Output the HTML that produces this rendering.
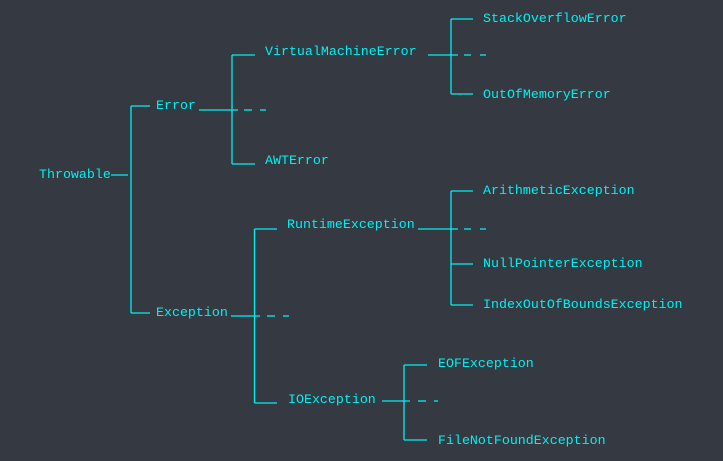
<!DOCTYPE html>
<html><head><style>
html,body{margin:0;padding:0;background:#353a42;}
svg{display:block}
text{font-family:"Liberation Mono",monospace;font-size:13.3px;fill:#00f0f0;}
line{stroke:#00f0f0;stroke-width:1.3;}
</style></head><body>
<svg width="723" height="461" viewBox="0 0 723 461">
<rect width="723" height="461" fill="#353a42"/>
<!-- Throwable -->
<text x="39" y="178">Throwable</text>
<line x1="111" y1="175" x2="128" y2="175"/>
<line x1="131" y1="106" x2="131" y2="313"/>
<line x1="131" y1="106" x2="150" y2="106"/>
<line x1="131" y1="313" x2="150" y2="313"/>
<text x="156" y="109">Error</text>
<text x="156" y="316">Exception</text>
<!-- Error -->
<line x1="199" y1="110" x2="238" y2="110"/>
<line x1="244" y1="110" x2="252" y2="110"/>
<line x1="260" y1="110" x2="266" y2="110"/>
<line x1="232" y1="55" x2="232" y2="164"/>
<line x1="232" y1="55" x2="255" y2="55"/>
<line x1="232" y1="164" x2="255" y2="164"/>
<text x="265" y="55">VirtualMachineError</text>
<text x="265" y="164">AWTError</text>
<!-- VME -->
<line x1="428" y1="55" x2="458" y2="55"/>
<line x1="464" y1="55" x2="471" y2="55"/>
<line x1="480" y1="55" x2="486" y2="55"/>
<line x1="451" y1="19" x2="451" y2="94"/>
<line x1="451" y1="19" x2="473" y2="19"/>
<line x1="451" y1="94" x2="473" y2="94"/>
<text x="483" y="22">StackOverflowError</text>
<text x="483" y="98">OutOfMemoryError</text>
<!-- Exception -->
<line x1="231" y1="316" x2="260" y2="316"/>
<line x1="267" y1="316" x2="275" y2="316"/>
<line x1="283" y1="316" x2="289" y2="316"/>
<line x1="254.5" y1="229" x2="254.5" y2="403"/>
<line x1="254.5" y1="229" x2="277" y2="229"/>
<line x1="254.5" y1="403" x2="277" y2="403"/>
<text x="287" y="228">RuntimeException</text>
<text x="288" y="403">IOException</text>
<!-- Runtime -->
<line x1="418" y1="229" x2="458" y2="229"/>
<line x1="464" y1="229" x2="471" y2="229"/>
<line x1="480" y1="229" x2="486" y2="229"/>
<line x1="451" y1="191" x2="451" y2="305"/>
<line x1="451" y1="191" x2="473" y2="191"/>
<line x1="451" y1="264" x2="473" y2="264"/>
<line x1="451" y1="305" x2="473" y2="305"/>
<text x="483" y="194">ArithmeticException</text>
<text x="483" y="267">NullPointerException</text>
<text x="483" y="308">IndexOutOfBoundsException</text>
<!-- IO -->
<line x1="382" y1="401" x2="410" y2="401"/>
<line x1="418" y1="401" x2="426" y2="401"/>
<line x1="434" y1="401" x2="438" y2="401"/>
<line x1="404" y1="365" x2="404" y2="440"/>
<line x1="404" y1="365" x2="427" y2="365"/>
<line x1="404" y1="440" x2="427" y2="440"/>
<text x="438" y="367">EOFException</text>
<text x="438" y="444">FileNotFoundException</text>
</svg>
</body></html>
